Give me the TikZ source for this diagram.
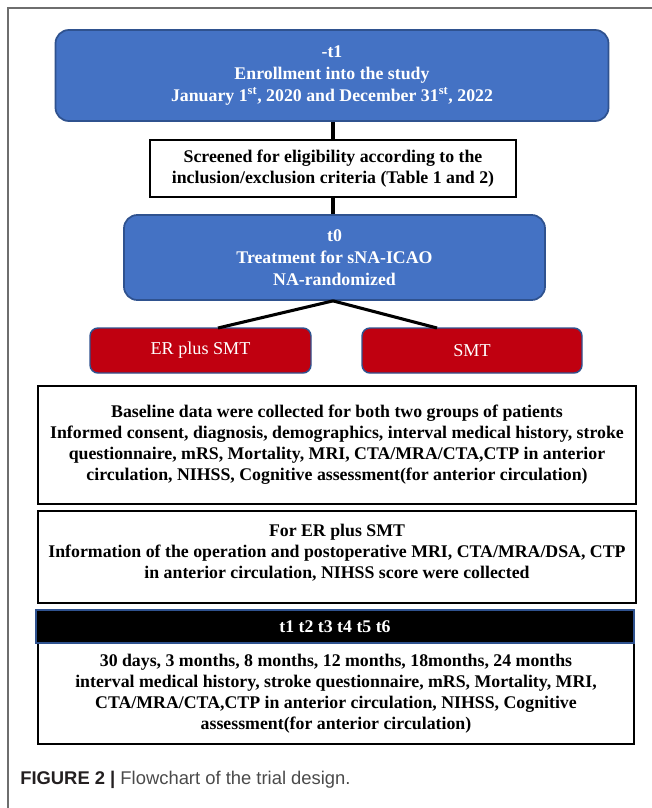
\documentclass[tikz,border=0pt]{standalone}
\usepackage{fontspec}
\setmainfont{Liberation Serif}
\setsansfont{Liberation Sans}
\usetikzlibrary{calc}
\definecolor{bluefill}{HTML}{4472C4}
\definecolor{blueedge}{HTML}{2F528F}
\definecolor{redfill}{HTML}{C00010}
\definecolor{framegray}{HTML}{6E6E6E}
\definecolor{capdark}{HTML}{231F20}
\definecolor{capgray}{HTML}{4A4A4A}
\tikzset{
  bluebox/.style={draw=blueedge, line width=1.3pt, fill=bluefill, rounded corners=10pt,
    text=white, font=\bfseries\fontsize{13.35}{16.5}\selectfont, align=center, inner sep=0pt},
  redbox/.style={draw=blueedge, line width=1.1pt, fill=redfill, rounded corners=6pt,
    text=white, font=\fontsize{13.6}{15.75}\selectfont, align=center, inner sep=0pt},
  whitebox/.style={draw=black, line width=2.2pt, fill=white, inner sep=0pt},
  boxtext/.style={font=\bfseries\fontsize{13.35}{15.75}\selectfont, align=center, inner sep=0pt},
  conn/.style={draw=black, line width=2.3pt},
}
\begin{document}
\begin{tikzpicture}[x=0.75pt, y=-0.75pt]
\useasboundingbox (0,0) rectangle (652,808);
% frame
\draw[framegray, line width=1.2pt] (8,808) -- (8,8) -- (652,8);

% top blue
\node[bluebox, minimum width=553*0.75pt, minimum height=91*0.75pt] (b1) at (332,75.5)
  {-t1\\Enrollment into the study\\January 1\textsuperscript{st}, 2020 and December 31\textsuperscript{st}, 2022};

% screened
\node[whitebox, boxtext, minimum width=366*0.75pt, minimum height=57*0.75pt] (s2) at (333,168.5)
  {Screened for eligibility according to the\\inclusion/exclusion criteria (Table 1 and 2)};

% t0
\node[bluebox, minimum width=421*0.75pt, minimum height=85*0.75pt] (b2) at (334.5,257.5)
  {t0\\Treatment for sNA-ICAO\\NA-randomized};

% red boxes
\node[redbox, minimum width=221*0.75pt, minimum height=45*0.75pt] (er) at (200.5,350.5) {ER plus SMT};
\node[redbox, minimum width=220*0.75pt, minimum height=45*0.75pt] (smt) at (472,350.5) {SMT};

\coordinate (erin) at (218,328);
\coordinate (smtin) at (437,328);

% connectors
\draw[conn] (b1.south -| s2.north) -- (s2.north);
\draw[conn] (s2.south) -- (s2.south |- b2.north);
\draw[conn] (b2.south -| s2.south) -- (erin);
\draw[conn] (b2.south -| s2.south) -- (smtin);

% baseline
\node[whitebox, boxtext, minimum width=598*0.75pt, minimum height=118*0.75pt] (base) at (337,445)
  {Baseline data were collected for both two groups of patients\\
   Informed consent, diagnosis, demographics, interval medical history, stroke\\
   questionnaire, mRS, Mortality, MRI, CTA/MRA/CTA,CTP in anterior\\
   circulation, NIHSS, Cognitive assessment(for anterior circulation)};

% ER info
\node[whitebox, minimum width=598*0.75pt, minimum height=92*0.75pt] (erinfo) at (337,557) {};
\node[boxtext] (erinfotext) at (337,553)
  {For ER plus SMT\\
   Information of the operation and postoperative MRI, CTA/MRA/DSA, CTP\\
   in anterior circulation, NIHSS score were collected};

% follow-up
\node[whitebox, line width=1.8pt, boxtext, minimum width=596*0.75pt, minimum height=101*0.75pt] (fu) at (336,693.5)
  {30 days, 3 months, 8 months, 12 months, 18months, 24 months\\
   interval medical history, stroke questionnaire, mRS, Mortality, MRI,\\
   CTA/MRA/CTA,CTP in anterior circulation, NIHSS, Cognitive\\
   assessment(for anterior circulation)};
\node[draw=blueedge, line width=1pt, fill=black, text=white, boxtext,
      minimum width=598*0.75pt, minimum height=33*0.75pt] (hdr) at (335,626.5)
  {t1 t2 t3 t4 t5 t6};

% caption
\node[anchor=west, inner sep=0pt, font=\sffamily\fontsize{13.8}{16}\selectfont] (cap) at (20,780)
  {\textcolor{capdark}{\bfseries FIGURE 2 |} \textcolor{capgray}{Flowchart of the trial design.}};
\end{tikzpicture}
\end{document}
